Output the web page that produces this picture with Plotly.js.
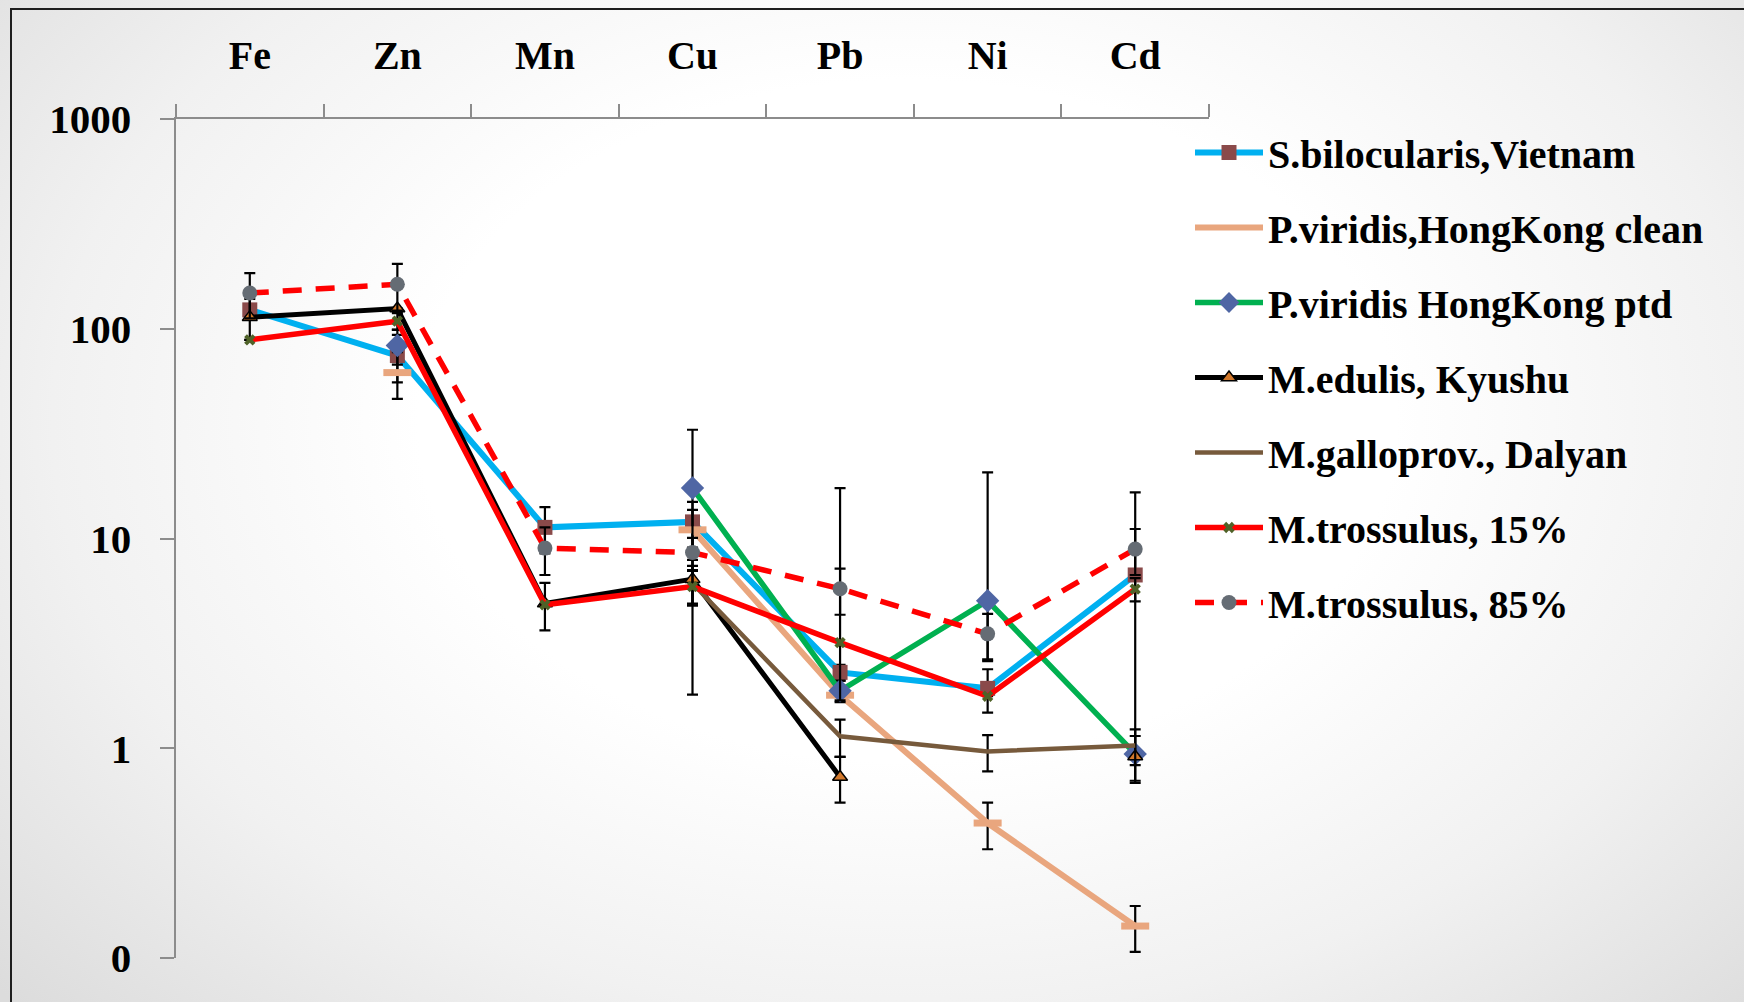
<!DOCTYPE html>
<html>
<head>
<meta charset="utf-8">
<script src="https://cdn.plot.ly/plotly-3.0.1.min.js"></script>
<style>
  html, body { margin: 0; padding: 0; overflow: hidden; }
  body {
    width: 1744px; height: 1002px; position: relative;
    background: radial-gradient(ellipse 70% 85% at 52% 42%, #ffffff 40%, #f1f1f1 70%, #dcdcdc 100%);
  }
  #chart { position: absolute; left: 0; top: 0; width: 1744px; height: 1002px; }
  #frame {
    position: absolute; left: 10px; top: 8px; width: 1800px; height: 1100px;
    border: 2.5px solid #1e1e1e; pointer-events: none;
  }
</style>
</head>
<body>
<div id="chart"></div>
<div id="frame"></div>
<script>
// Metal concentrations in mussel tissue, by element (log scale)
const elements = ['Fe', 'Zn', 'Mn', 'Cu', 'Pb', 'Ni', 'Cd'];

const seriesNames = [
  'S.bilocularis,Vietnam',
  'P.viridis,HongKong clean',
  'P.viridis HongKong ptd',
  'M.edulis, Kyushu',
  'M.galloprov., Dalyan',
  'M.trossulus, 15%',
  'M.trossulus, 85%'
];

const sBilocularis      = [123, 74.5, 11.3, 12.0, 2.30, 1.93, 6.7];
const sBilocularisErrHi = [0, 19, 2.8, 2.95, 0.2, 0.45, 9.9];
const sBilocularisErrLo = [0, 19, 2.8, 2.95, 0.2, 0.45, 6.0];

const pViridisClean    = [null, 61.8, null, 11.0, 1.79, 0.44, 0.142];
const pViridisCleanErr = [null, 15.5, null, 2.7, 0, 0.11, 0.035];

const pViridisPtd      = [null, 83.2, null, 17.4, 1.88, 5.05, 0.94];
const pViridisPtdErrHi = [null, 15.8, null, 15.6, 0.22, 15.6, 0];
const pViridisPtdErrLo = [null, 15.8, null, 15.6, 0.22, 2.45, 0];

const mEdulis    = [113.6, 124.8, 4.9, 6.4, 0.73, null, 0.914];
const mEdulisErr = [25, 0, 1.25, 1.5, 0.18, null, 0.23];

const mGalloprov    = [null, null, null, 6.1, 1.14, 0.966, 1.03];
const mGalloprovErr = [null, null, null, 1.3, 0.23, 0.19, 0.2];

const mTrossulus15      = [88.5, 108.7, 4.83, 5.9, 3.19, 1.77, 5.74];
const mTrossulus15ErrHi = [0, 10, 0, 1.1, 14.2, 0, 0.73];
const mTrossulus15ErrLo = [0, 10, 0, 1.1, 1.5, 0, 0.73];

const mTrossulus85    = [148, 163, 9.0, 8.57, 5.76, 3.51, 8.9];
const mTrossulus85Err = [36, 41, 2.3, 1.5, 1.43, 0.86, 2.2];

const yTickVals = [0.1, 1, 10, 100, 1000];
const yTickText = ['0', '1', '10', '100', '1000'];

const FONT = 'Liberation Serif, Times New Roman, serif';

function errBars(hi, lo) {
  return {
    type: 'data', symmetric: false, array: hi, arrayminus: lo || hi,
    color: '#000000', thickness: 2.2, width: 5.5, visible: true
  };
}

function series(name, y, hi, lo, lineStyle, marker, mode) {
  return {
    type: 'scatter', mode: mode || 'lines+markers',
    name: name, legendgroup: name,
    x: elements, y: y,
    line: lineStyle, marker: marker,
    error_y: errBars(hi, lo),
    connectgaps: false, cliponaxis: false
  };
}

const traces = [
  series(seriesNames[0], sBilocularis, sBilocularisErrHi, sBilocularisErrLo,
    { color: '#00B0F0', width: 6 },
    { symbol: 'square', size: 15, color: '#8A4A4A' }),
  series(seriesNames[1], pViridisClean, pViridisCleanErr, null,
    { color: '#E9A67E', width: 6 },
    { symbol: 'line-ew', size: 20, color: '#E9A67E', line: { color: '#E9A67E', width: 7 } }),
  series(seriesNames[2], pViridisPtd, pViridisPtdErrHi, pViridisPtdErrLo,
    { color: '#00B050', width: 5.5 },
    { symbol: 'diamond', size: 18, color: '#4F66A4' }),
  series(seriesNames[3], mEdulis, mEdulisErr, null,
    { color: '#000000', width: 5 },
    { symbol: 'triangle-up', size: 13, color: '#D2782B', line: { color: '#000000', width: 1.5 } }),
  series(seriesNames[4], mGalloprov, mGalloprovErr, null,
    { color: '#775A3C', width: 4.5 },
    { size: 1 }, 'lines'),
  series(seriesNames[5], mTrossulus15, mTrossulus15ErrHi, mTrossulus15ErrLo,
    { color: '#FF0000', width: 5.5 },
    { symbol: 'x', size: 10, color: '#4F6228' }),
  series(seriesNames[6], mTrossulus85, mTrossulus85Err, null,
    { color: '#FF0000', width: 5.5, dash: '19px,14px' },
    { symbol: 'circle', size: 15, color: '#656C74' })
];

const axisGray = '#8c8c8c';

const layout = {
  width: 1744, height: 1002,
  margin: { l: 176, r: 535, t: 119, b: 44, autoexpand: false },
  paper_bgcolor: 'rgba(0,0,0,0)',
  plot_bgcolor: 'rgba(0,0,0,0)',
  font: { family: FONT, size: 40, color: '#000000', weight: 700 },
  showlegend: true,
  xaxis: {
    type: 'category', side: 'top',
    range: [-0.5, elements.length - 0.5],
    showline: true, linecolor: axisGray, linewidth: 2.5,
    ticks: 'outside', tickson: 'boundaries', ticklen: 13, tickwidth: 2, tickcolor: axisGray,
    showgrid: false, zeroline: false,
    tickfont: { family: FONT, size: 40, color: '#000000', weight: 700 },
    ticklabelstandoff: 32
  },
  yaxis: {
    type: 'log', range: [-1, 3],
    tickvals: yTickVals, ticktext: yTickText,
    showline: true, linecolor: axisGray, linewidth: 2.5,
    ticks: 'outside', ticklen: 14, tickwidth: 2, tickcolor: axisGray,
    showgrid: false, zeroline: false,
    tickfont: { family: FONT, size: 41, color: '#000000', weight: 700 },
    ticklabelstandoff: 20
  },
  legend: {
    xref: 'container', yref: 'container',
    x: 1190 / 1744, y: 1 - 120 / 1002,
    xanchor: 'left', yanchor: 'top',
    bgcolor: 'rgba(0,0,0,0)',
    font: { family: FONT, size: 40, color: '#000000', weight: 700 },
    itemwidth: 68, tracegroupgap: 20,
    traceorder: 'grouped'
  }
};

Plotly.newPlot('chart', traces, layout, { displayModeBar: false, staticPlot: true });
</script>
</body>
</html>
